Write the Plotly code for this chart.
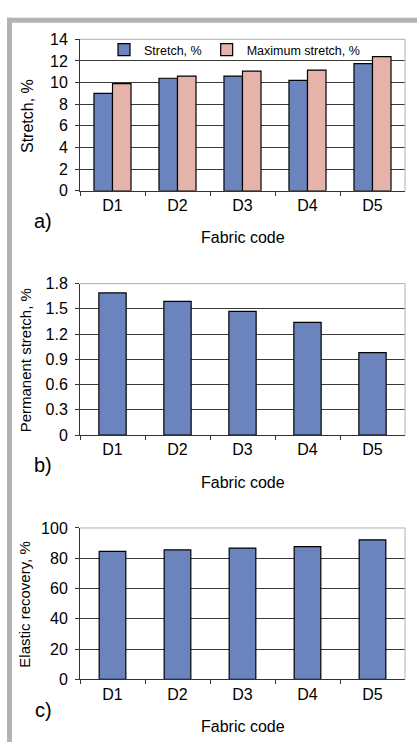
import plotly.graph_objects as go

fabric_codes = ["D1", "D2", "D3", "D4", "D5"]
stretch = [9.0, 10.4, 10.6, 10.2, 11.75]
max_stretch = [9.9, 10.6, 11.05, 11.15, 12.4]
permanent_stretch = [1.69, 1.59, 1.47, 1.34, 0.98]
elastic_recovery = [84.5, 85.5, 86.7, 87.7, 92.2]

BLUE = "#6b84be"
PINK = "#e6b3ab"
FONT = "Liberation Sans, Arial, sans-serif"
W, H = 417, 751

fig = go.Figure()

# panel a
fig.add_trace(go.Bar(x=fabric_codes, y=stretch, name="Stretch, %", marker=dict(color=BLUE, line=dict(color="#000", width=1.2)),
                     width=0.285, offset=-0.285, xaxis="x", yaxis="y"))
fig.add_trace(go.Bar(x=fabric_codes, y=max_stretch, name="Maximum stretch, %", marker=dict(color=PINK, line=dict(color="#000", width=1.2)),
                     width=0.285, offset=0.0, xaxis="x", yaxis="y"))
# panel b
fig.add_trace(go.Bar(x=fabric_codes, y=permanent_stretch, showlegend=False, marker=dict(color=BLUE, line=dict(color="#000", width=1.2)),
                     width=0.42, offset=-0.21, xaxis="x2", yaxis="y2"))
# panel c
fig.add_trace(go.Bar(x=fabric_codes, y=elastic_recovery, showlegend=False, marker=dict(color=BLUE, line=dict(color="#000", width=1.2)),
                     width=0.41, offset=-0.205, xaxis="x3", yaxis="y3"))

def px_x(p):
    return p / W

def px_y(p):
    return 1 - p / H

xdom = [px_x(80), px_x(405)]
panels = [(32, 187), (282, 437), (532, 687)]

xcommon = dict(domain=xdom, type="category", range=[-0.5, 4.5], showgrid=False, tickson="boundaries",
               ticks="outside", ticklen=4, tickcolor="#333", showline=True, linecolor="#333", linewidth=1,
               tickfont=dict(family=FONT, size=16, color="#000"), zeroline=False)
ycommon = dict(showgrid=True, gridcolor="#3a3a3a", gridwidth=1, ticks="outside", ticklen=4, tickcolor="#333",
               showline=True, linecolor="#333", linewidth=1, zeroline=False, ticklabelstandoff=4,
               tickfont=dict(family=FONT, size=16, color="#000"))

layout = dict(
    width=W, height=H, margin=dict(l=0, r=0, t=0, b=0),
    paper_bgcolor="white", plot_bgcolor="white", barmode="overlay",
    font=dict(family=FONT, color="#000"),
    showlegend=True,
    legend=dict(orientation="h", x=px_x(104), y=px_y(43), xanchor="left", yanchor="middle",
                bgcolor="rgba(0,0,0,0)", font=dict(family=FONT, size=12.5), itemwidth=30,
                tracegroupgap=0),
)
yranges = [dict(range=[0, 14], dtick=2), dict(range=[0, 1.8], tickvals=[0, 0.3, 0.6, 0.9, 1.2, 1.5, 1.8],
                                               ticktext=["0", "0.3", "0.6", "0.9", "1.2", "1.5", "1.8"]),
           dict(range=[0, 100], dtick=20)]
names = ["", "2", "3"]
for i, (t, b) in enumerate(panels):
    n = names[i]
    xa = dict(xcommon)
    xa["anchor"] = "y" + n
    ya = dict(ycommon)
    ya.update(yranges[i])
    ya["domain"] = [px_y(b), px_y(t)]
    ya["anchor"] = "x" + n
    layout["xaxis" + n] = xa
    layout["yaxis" + n] = ya
fig.update_layout(**layout)

shapes = []
# frame
shapes.append(dict(type="rect", xref="paper", yref="paper", x0=px_x(7), x1=1, y0=px_y(15), y1=px_y(10), fillcolor="#b3b3b3", line=dict(width=0), layer="below"))
shapes.append(dict(type="rect", xref="paper", yref="paper", x0=px_x(7), x1=px_x(12), y0=0, y1=px_y(10), fillcolor="#b3b3b3", line=dict(width=0), layer="below"))
for i, (t, b) in enumerate(panels):
    shapes.append(dict(type="line", xref="paper", yref="paper", x0=xdom[0], x1=xdom[1], y0=px_y(t), y1=px_y(t), line=dict(color="#b0b0b0", width=1)))
    shapes.append(dict(type="line", xref="paper", yref="paper", x0=xdom[1], x1=xdom[1], y0=px_y(b), y1=px_y(t), line=dict(color="#b0b0b0", width=1)))
fig.update_layout(shapes=shapes)

annotations = []
labels = ["a)", "b)", "c)"]
ytitles = [("Stretch, %", 16, 28), ("Permanent stretch, %", 15, 25), ("Elastic recovery, %", 15, 25)]
for i, (t, b) in enumerate(panels):
    annotations.append(dict(text=labels[i], x=px_x(43), y=px_y(b + 31), xref="paper", yref="paper", showarrow=False,
                            font=dict(family=FONT, size=20), xanchor="center", yanchor="middle"))
    annotations.append(dict(text="Fabric code", x=px_x(243), y=px_y(b + 48), xref="paper", yref="paper", showarrow=False,
                            font=dict(family=FONT, size=16), xanchor="center", yanchor="middle"))
    txt, fs, xp = ytitles[i]
    annotations.append(dict(text=txt, x=px_x(xp), y=px_y((t + b) / 2 + 1), xref="paper", yref="paper", showarrow=False,
                            textangle=-90, font=dict(family=FONT, size=fs), xanchor="center", yanchor="middle"))
fig.update_layout(annotations=annotations)

fig.write_html("out.html", config={"displayModeBar": False},
               post_script="document.body.style.margin='0';document.body.style.overflow='hidden';")
